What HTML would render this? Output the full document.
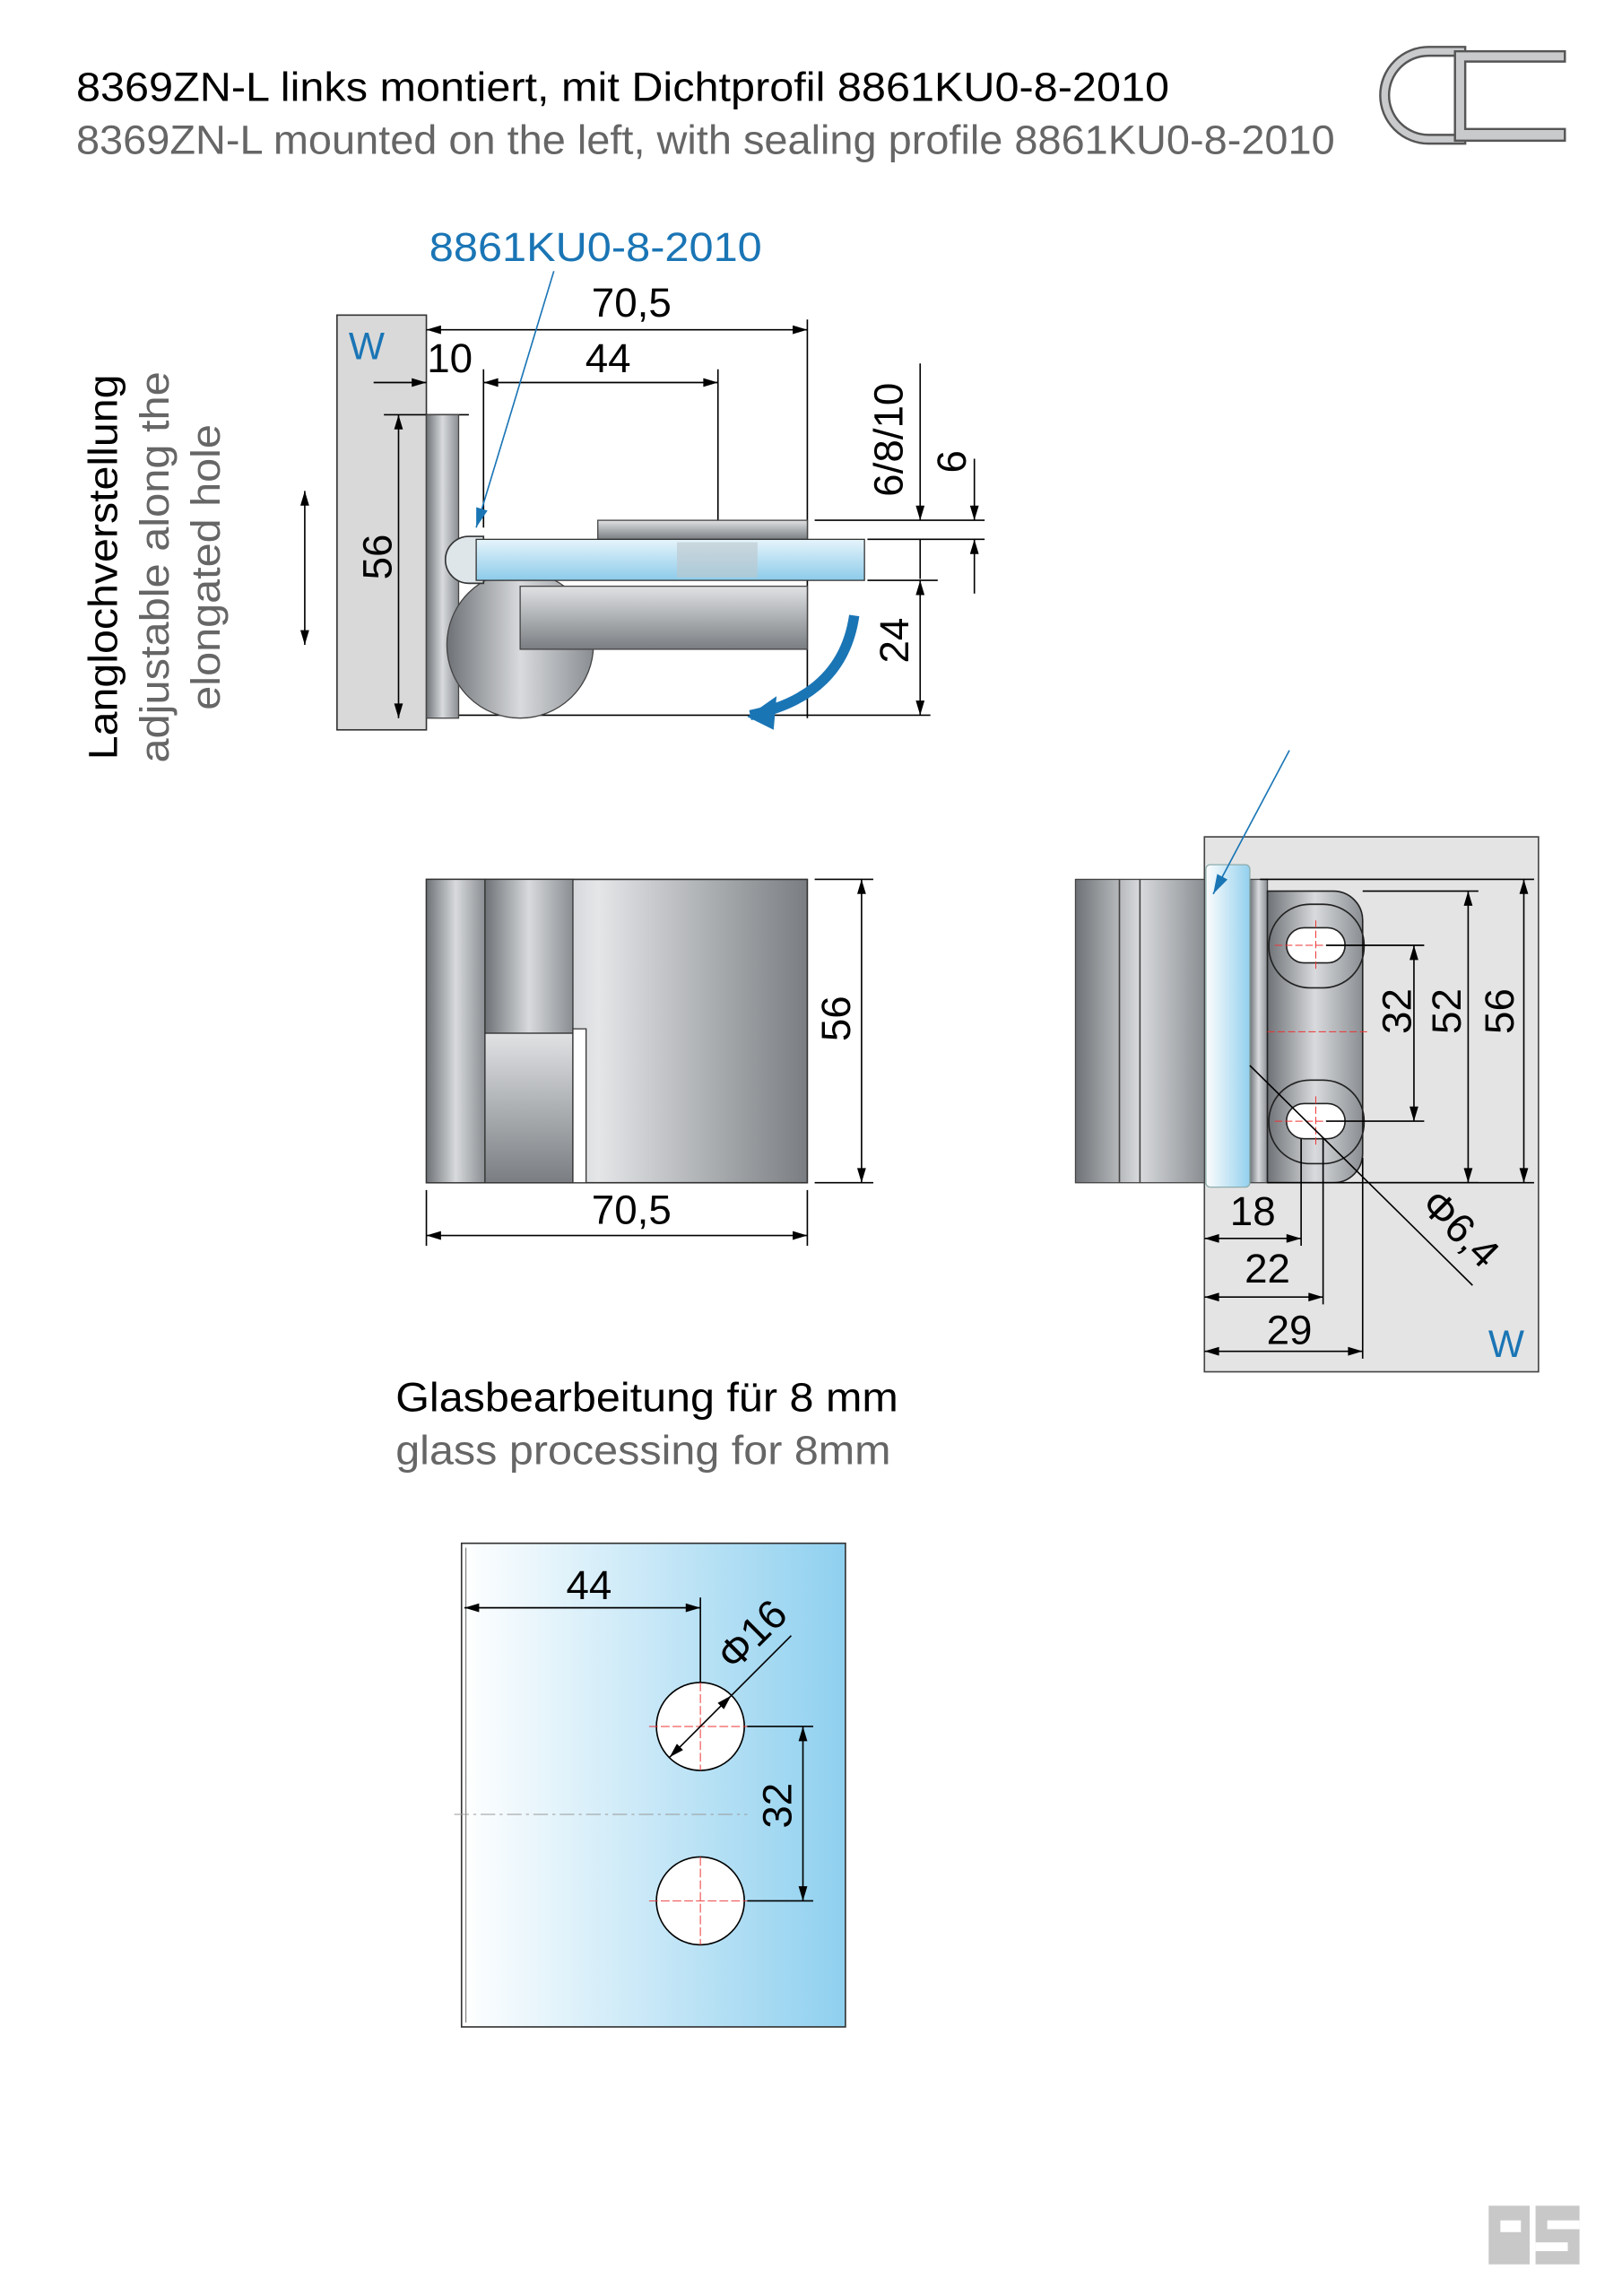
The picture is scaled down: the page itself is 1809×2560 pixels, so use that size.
<!DOCTYPE html>
<html><head><meta charset="utf-8"><style>
html,body{margin:0;padding:0;background:#fff}
svg{display:block}
text{font-family:"Liberation Sans",sans-serif}
</style></head><body>
<svg width="1809" height="2560" viewBox="0 0 1107 1566.6" preserveAspectRatio="none" xmlns="http://www.w3.org/2000/svg">
<defs>
<linearGradient id="met" x1="0" x2="1"><stop offset="0" stop-color="#6e7276"/><stop offset="0.5" stop-color="#d8dadd"/><stop offset="1" stop-color="#8a8e92"/></linearGradient>
<linearGradient id="metv" x1="0" y1="0" x2="0" y2="1"><stop offset="0" stop-color="#e0e2e4"/><stop offset="1" stop-color="#7a7e82"/></linearGradient>
<linearGradient id="front" x1="0" x2="1"><stop offset="0" stop-color="#85898d"/><stop offset="0.45" stop-color="#e4e6e8"/><stop offset="1" stop-color="#7a7e82"/></linearGradient>
<linearGradient id="gl" x1="0" x2="1"><stop offset="0" stop-color="#ffffff"/><stop offset="1" stop-color="#8fd0ef"/></linearGradient>
<linearGradient id="glv" x1="0" y1="0" x2="0" y2="1"><stop offset="0" stop-color="#e6f4fb"/><stop offset="1" stop-color="#8ccbea"/></linearGradient>
<marker id="a" viewBox="0 0 10 6" refX="10" refY="3" markerWidth="12" markerHeight="6" orient="auto-start-reverse" markerUnits="userSpaceOnUse"><path d="M0,0 L10,3 L0,6z" fill="#000"/></marker>
<marker id="b" viewBox="0 0 10 6" refX="10" refY="3" markerWidth="14" markerHeight="8" orient="auto" markerUnits="userSpaceOnUse"><path d="M0,0 L10,3 L0,6z" fill="#1a75b5"/></marker>
</defs>

<text x="52" y="69" font-size="28" fill="#000" textLength="746" lengthAdjust="spacingAndGlyphs">8369ZN-L links montiert, mit Dichtprofil 8861KU0-8-2010</text>
<text x="52" y="105" font-size="28" fill="#666" textLength="859" lengthAdjust="spacingAndGlyphs">8369ZN-L mounted on the left, with sealing profile 8861KU0-8-2010</text>
<path d="M1000,32 L975,32 A33,33 0 0 0 975,98 L1000,98 L1000,92 L975,92 A27,27 0 0 1 975,38 L1000,38Z" fill="#c8cacc" stroke="#555" stroke-width="1.5"/>
<path d="M993,35 L1068,35 L1068,42 L1000,42 L1000,88 L1068,88 L1068,96 L993,96Z" fill="#c8cacc" stroke="#555" stroke-width="1.5"/>

<text x="293" y="178" font-size="28" fill="#1a75b5" textLength="227" lengthAdjust="spacingAndGlyphs">8861KU0-8-2010</text>
<rect x="230" y="215" width="61" height="283" fill="#d9d9d9" stroke="#333" stroke-width="1"/>
<text x="238" y="245" font-size="26" fill="#1a75b5">W</text>
<g stroke="#000" stroke-width="1" fill="none">
<line x1="291" y1="225" x2="551" y2="225" marker-start="url(#a)" marker-end="url(#a)"/>
<line x1="551" y1="218" x2="551" y2="490"/>
<line x1="255" y1="261" x2="291" y2="261" marker-end="url(#a)"/>
<line x1="330" y1="261" x2="490" y2="261" marker-start="url(#a)" marker-end="url(#a)"/>
<line x1="330" y1="252" x2="330" y2="360"/>
<line x1="490" y1="252" x2="490" y2="360"/>
<line x1="272" y1="283" x2="272" y2="490" marker-start="url(#a)" marker-end="url(#a)"/>
<line x1="262" y1="283" x2="320" y2="283"/>
<line x1="208" y1="335" x2="208" y2="440" marker-start="url(#a)" marker-end="url(#a)"/>
<line x1="628" y1="248" x2="628" y2="355" marker-end="url(#a)"/>
<line x1="628" y1="368" x2="628" y2="395"/>
<line x1="628" y1="396" x2="628" y2="488" marker-start="url(#a)" marker-end="url(#a)"/>
<line x1="665" y1="313" x2="665" y2="355" marker-end="url(#a)"/>
<line x1="665" y1="405" x2="665" y2="368" marker-end="url(#a)"/>
<line x1="556" y1="355" x2="672" y2="355"/>
<line x1="592" y1="368" x2="672" y2="368"/>
<line x1="592" y1="396" x2="640" y2="396"/>
<line x1="300" y1="488" x2="635" y2="488"/>
</g>
<text x="431" y="216" font-size="28" text-anchor="middle">70,5</text>
<text x="307" y="254" font-size="28" text-anchor="middle">10</text>
<text x="415" y="254" font-size="28" text-anchor="middle">44</text>
<text transform="translate(267,380) rotate(-90)" font-size="28" text-anchor="middle">56</text>
<text transform="translate(616,300) rotate(-90)" font-size="28" text-anchor="middle">6/8/10</text>
<text transform="translate(659,315) rotate(-90)" font-size="28" text-anchor="middle">6</text>
<text transform="translate(620,437) rotate(-90)" font-size="28" text-anchor="middle">24</text>
<g font-size="28" text-anchor="middle">
<text transform="translate(80,387) rotate(-90)" fill="#000" textLength="263" lengthAdjust="spacingAndGlyphs">Langlochverstellung</text>
<text transform="translate(115,387) rotate(-90)" fill="#666" textLength="267" lengthAdjust="spacingAndGlyphs">adjustable along the</text>
<text transform="translate(150,387) rotate(-90)" fill="#666" textLength="195" lengthAdjust="spacingAndGlyphs">elongated hole</text>
</g>
<rect x="291" y="283" width="22" height="207" fill="url(#met)" stroke="#444" stroke-width="0.8"/>
<circle cx="355" cy="440" r="50" fill="url(#met)" stroke="#444" stroke-width="0.8"/>
<rect x="355" y="400" width="196" height="43" fill="url(#metv)" stroke="#444" stroke-width="0.8"/>
<rect x="408" y="355" width="143" height="13" fill="url(#metv)" stroke="#444" stroke-width="0.8"/>
<path d="M320,366 A16,16 0 0 0 320,398 L330,398 L330,366Z" fill="#dfe6ea" stroke="#333" stroke-width="1"/>
<rect x="325" y="368" width="265" height="28" fill="url(#glv)" stroke="#333" stroke-width="0.8"/>
<rect x="462" y="370" width="55" height="24" fill="#bcc6cc" opacity="0.6"/>
<line x1="378" y1="185" x2="325" y2="360" stroke="#1a75b5" stroke-width="1" marker-end="url(#b)"/>
<path d="M583,420 Q575,475 512,488" stroke="#1a75b5" stroke-width="7" fill="none"/>
<path d="M510,489 L530,475 L528,498Z" fill="#1a75b5"/>

<rect x="291" y="600" width="260" height="207" fill="url(#front)" stroke="#333" stroke-width="1"/>
<rect x="291" y="600" width="40" height="207" fill="url(#met)" stroke="#333" stroke-width="0.8"/>
<rect x="331" y="600" width="60" height="105" fill="url(#met)" stroke="#333" stroke-width="0.8"/>
<rect x="331" y="705" width="60" height="102" fill="url(#metv)" stroke="#333" stroke-width="0.8"/>
<path d="M391,702 L400,702 L400,807 L391,807Z" fill="#fff" stroke="#333" stroke-width="0.8"/>
<g stroke="#000" stroke-width="1" fill="none">
<line x1="588" y1="600" x2="588" y2="807" marker-start="url(#a)" marker-end="url(#a)"/>
<line x1="556" y1="600" x2="596" y2="600"/><line x1="556" y1="807" x2="596" y2="807"/>
<line x1="291" y1="843" x2="551" y2="843" marker-start="url(#a)" marker-end="url(#a)"/>
<line x1="291" y1="812" x2="291" y2="850"/><line x1="551" y1="812" x2="551" y2="850"/>
</g>
<text transform="translate(580,695) rotate(-90)" font-size="28" text-anchor="middle">56</text>
<text x="431" y="835" font-size="28" text-anchor="middle">70,5</text>

<rect x="822" y="571" width="228" height="365" fill="#e4e4e4" stroke="#444" stroke-width="1"/>
<rect x="734" y="600" width="88" height="207" fill="url(#met)" stroke="#444" stroke-width="0.8"/>
<line x1="764" y1="600" x2="764" y2="807" stroke="#444"/><line x1="778" y1="600" x2="778" y2="807" stroke="#444"/>
<rect x="853" y="600" width="12" height="207" fill="url(#met)" stroke="#444" stroke-width="0.8"/>
<path d="M865,608 L910,608 A20,20 0 0 1 930,628 L930,787 A20,20 0 0 1 910,807 L865,807Z" fill="url(#met)" stroke="#222" stroke-width="1"/>
<rect x="866" y="617" width="65" height="57" rx="28" fill="none" stroke="#222"/>
<rect x="878" y="633" width="40" height="24" rx="12" fill="#fff" stroke="#222"/>
<rect x="866" y="737" width="65" height="57" rx="28" fill="none" stroke="#222"/>
<rect x="878" y="753" width="40" height="24" rx="12" fill="#fff" stroke="#222"/>
<g stroke="#e33" stroke-width="0.6" stroke-dasharray="5,2"><line x1="870" y1="645" x2="930" y2="645"/><line x1="870" y1="765" x2="930" y2="765"/><line x1="865" y1="704" x2="935" y2="704"/><line x1="898" y1="628" x2="898" y2="662"/><line x1="898" y1="748" x2="898" y2="782"/></g>
<rect x="823" y="590" width="30" height="220" rx="3" fill="url(#gl)" stroke="#8aa" stroke-width="0.8" opacity="0.95"/>
<line x1="880" y1="512" x2="828" y2="610" stroke="#1a75b5" stroke-width="1" marker-end="url(#b)"/>
<g stroke="#000" stroke-width="1" fill="none">
<line x1="965" y1="645" x2="965" y2="765" marker-start="url(#a)" marker-end="url(#a)"/>
<line x1="905" y1="645" x2="972" y2="645"/><line x1="905" y1="765" x2="972" y2="765"/>
<line x1="1002" y1="608" x2="1002" y2="807" marker-start="url(#a)" marker-end="url(#a)"/>
<line x1="930" y1="608" x2="1009" y2="608"/><line x1="930" y1="807" x2="1009" y2="807"/>
<line x1="1040" y1="600" x2="1040" y2="807" marker-start="url(#a)" marker-end="url(#a)"/>
<line x1="860" y1="600" x2="1047" y2="600"/><line x1="865" y1="807" x2="1047" y2="807"/>
<line x1="853" y1="727" x2="1005" y2="877"/>
<line x1="822" y1="845" x2="888" y2="845" marker-start="url(#a)" marker-end="url(#a)"/>
<line x1="822" y1="885" x2="903" y2="885" marker-start="url(#a)" marker-end="url(#a)"/>
<line x1="822" y1="922" x2="930" y2="922" marker-start="url(#a)" marker-end="url(#a)"/>
<line x1="888" y1="777" x2="888" y2="850"/><line x1="903" y1="777" x2="903" y2="890"/><line x1="930" y1="790" x2="930" y2="927"/>
</g>
<text transform="translate(963,690) rotate(-90)" font-size="28" text-anchor="middle">32</text>
<text transform="translate(997,690) rotate(-90)" font-size="28" text-anchor="middle">52</text>
<text transform="translate(1033,690) rotate(-90)" font-size="28" text-anchor="middle">56</text>
<text x="855" y="836" font-size="28" text-anchor="middle">18</text>
<text x="865" y="875" font-size="28" text-anchor="middle">22</text>
<text x="880" y="917" font-size="28" text-anchor="middle">29</text>
<text transform="translate(990,845) rotate(45)" font-size="28" text-anchor="middle">Φ6,4</text>
<text x="1028" y="926" font-size="26" text-anchor="middle" fill="#1a75b5">W</text>

<text x="270" y="963" font-size="28" fill="#000" textLength="343" lengthAdjust="spacingAndGlyphs">Glasbearbeitung für 8 mm</text>
<text x="270" y="999" font-size="28" fill="#666" textLength="338" lengthAdjust="spacingAndGlyphs">glass processing for 8mm</text>
<rect x="315" y="1053" width="262" height="330" fill="url(#gl)" stroke="#333" stroke-width="1"/>
<line x1="318" y1="1056" x2="318" y2="1380" stroke="#666" stroke-width="0.6"/>
<circle cx="478" cy="1178" r="30" fill="#fff" stroke="#000" stroke-width="1"/>
<circle cx="478" cy="1297" r="30" fill="#fff" stroke="#000" stroke-width="1"/>
<g stroke="#e33" stroke-width="0.6" stroke-dasharray="6,2"><line x1="443" y1="1178" x2="513" y2="1178"/><line x1="443" y1="1297" x2="513" y2="1297"/><line x1="478" y1="1267" x2="478" y2="1327"/><line x1="478" y1="1148" x2="478" y2="1208"/></g>
<line x1="310" y1="1238" x2="510" y2="1238" stroke="#999" stroke-width="0.6" stroke-dasharray="10,3,2,3"/>
<g stroke="#000" stroke-width="1" fill="none">
<line x1="317" y1="1097" x2="478" y2="1097" marker-start="url(#a)" marker-end="url(#a)"/>
<line x1="478" y1="1090" x2="478" y2="1148"/>
<line x1="457" y1="1199" x2="499" y2="1157" marker-start="url(#a)" marker-end="url(#a)"/>
<line x1="499" y1="1157" x2="540" y2="1116"/>
<line x1="548" y1="1178" x2="548" y2="1297" marker-start="url(#a)" marker-end="url(#a)"/>
<line x1="510" y1="1178" x2="555" y2="1178"/><line x1="510" y1="1297" x2="555" y2="1297"/>
</g>
<text x="402" y="1091" font-size="28" text-anchor="middle">44</text>
<text transform="translate(520,1122) rotate(-45)" font-size="28" text-anchor="middle">Φ16</text>
<text transform="translate(540,1232) rotate(-90)" font-size="28" text-anchor="middle">32</text>

<g fill="#c8c8c8"><rect x="1016" y="1505" width="28" height="40"/><rect x="1048" y="1505" width="30" height="40"/></g>
<g fill="#fff"><rect x="1024" y="1515" width="14" height="8"/><rect x="1056" y="1515" width="22" height="6"/><rect x="1048" y="1530" width="22" height="6"/></g>
</svg>
</body></html>
